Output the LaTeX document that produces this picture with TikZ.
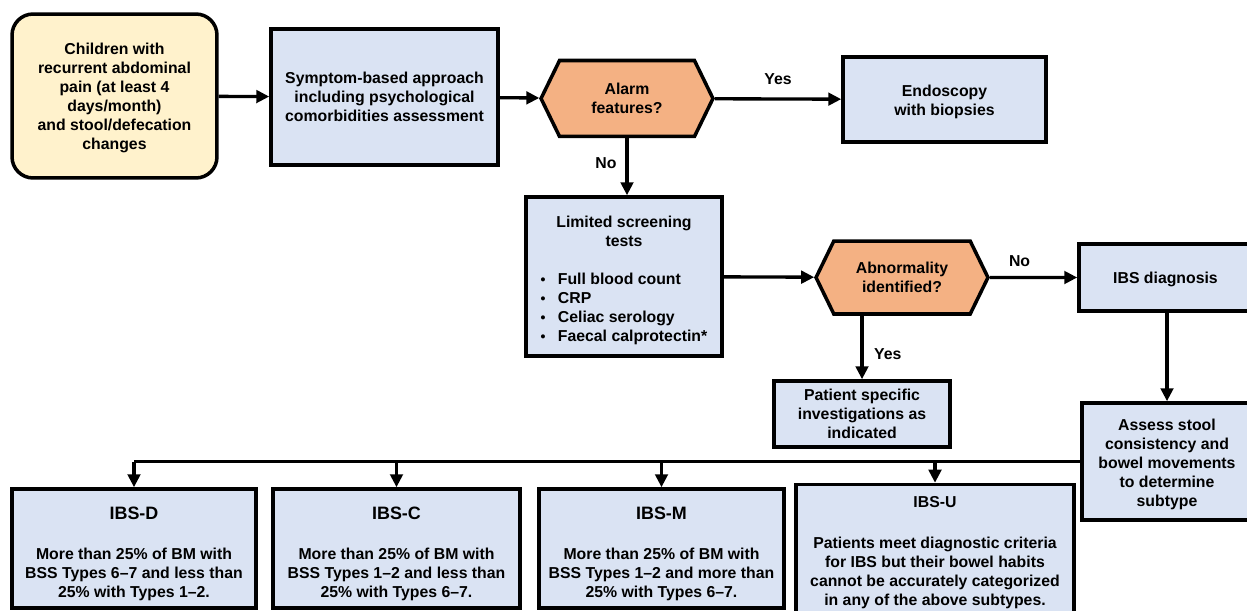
\documentclass[tikz,border=0pt]{standalone}
\usepackage{fontspec}
\setmainfont{Liberation Sans}
\usetikzlibrary{
    arrows.meta,
    positioning,
    shapes.symbols
}
\definecolor{ink}{RGB}{0,0,0}
\definecolor{startfill}{RGB}{255,242,204}
\definecolor{stepfill}{RGB}{218,227,243}
\definecolor{askfill}{RGB}{244,177,131}
\newcommand{\itemdot}{{\fontsize{8}{8}\selectfont\textbullet}}
\newcommand{\headroom}[1]{\rule{0pt}{#1}}
\tikzset{
    line cap=round,
    base box/.style={
        rectangle,
        draw=ink,
        line width=2pt,
        fill=stepfill,
        text=ink,
        align=center,
        inner sep=2pt,
        font=\bfseries\fontsize{9}{10.8}\selectfont
    },
    startbox/.style={base box, fill=startfill, rounded corners=12pt},
    stepbox/.style={base box},
    question/.style={
        base box,
        signal,
        signal to=west and east,
        signal pointer angle=128,
        fill=askfill
    },
    subtype/.style={
        base box,
        minimum height=2.38cm
    },
    flow/.style={
        -{Triangle[length=0.26cm, width=0.25cm]},
        draw=ink,
        line width=1.9pt
    },
    bus/.style={
        draw=ink,
        line width=1.9pt
    },
    answer/.style={
        font=\bfseries\fontsize{9}{10.8}\selectfont,
        text=ink,
        inner sep=1pt
    }
}

\begin{document}
\begin{tikzpicture}[x=0.02cm, y=-0.02cm]
\useasboundingbox (0,0) rectangle (1247,611);

% Top row
\node[startbox, minimum width=4.1cm, minimum height=3.28cm] (start) at (114.5,96)
    {\headroom{9pt}Children with\\recurrent abdominal\\pain (at least 4\\days/month)\\and stool/defecation\\changes};
\node[stepbox, minimum width=4.54cm, minimum height=2.72cm] (symptom) at (384.5,97)
    {Symptom-based approach\\including psychological\\comorbidities assessment};
\node[question, minimum width=3.44cm, minimum height=1.52cm] (alarm) at (627,98.5)
    {Alarm\\features?};
\node[stepbox, minimum width=4.06cm, minimum height=1.7cm] (endoscopy) at (944.5,99.5)
    {\headroom{9pt}Endoscopy\\with biopsies};

% Screening and second question
\node[stepbox, minimum width=3.92cm, minimum height=3.18cm] (screening) at (624,276.5)
    {\headroom{12.3pt}Limited screening\\tests\\[13pt]
    \begin{tabular}{@{}l@{\hspace{7pt}}l@{}}
    \itemdot & Full blood count\\
    \itemdot & CRP\\
    \itemdot & Celiac serology\\
    \itemdot & Faecal calprotectin*
    \end{tabular}};
\node[question, minimum width=3.44cm, minimum height=1.46cm] (abnormal) at (902,277.5)
    {Abnormality\\identified?};
\node[stepbox, minimum width=3.46cm, minimum height=1.34cm] (ibsdiag) at (1165.5,277.5)
    {\headroom{9pt}IBS diagnosis};
\node[stepbox, minimum width=3.52cm, minimum height=1.32cm] (patient) at (862,414)
    {Patient specific\\investigations as\\indicated};
\node[stepbox, minimum width=3.4cm, minimum height=2.34cm] (assess) at (1167,461.5)
    {\headroom{9.8pt}Assess stool\\consistency and\\bowel movements\\to determine\\subtype};

% Subtypes
\node[subtype, minimum width=4.88cm] (ibsd) at (134,548.5)
    {\headroom{13pt}{\fontsize{10.2}{12}\selectfont IBS-D}\\[12.3pt]More than 25\% of BM with\\BSS Types 6--7 and less than\\25\% with Types 1--2.};
\node[subtype, minimum width=4.94cm] (ibsc) at (396.5,548.5)
    {\headroom{13pt}{\fontsize{10.2}{12}\selectfont IBS-C}\\[12.3pt]More than 25\% of BM with\\BSS Types 1--2 and less than\\25\% with Types 6--7.};
\node[subtype, minimum width=4.9cm] (ibsm) at (661.5,548.5)
    {\headroom{13pt}{\fontsize{10.2}{12}\selectfont IBS-M}\\[12.3pt]More than 25\% of BM with\\BSS Types 1--2 and more than\\25\% with Types 6--7.};
\node[subtype, minimum width=5.56cm] (ibsu) at (935,548.5)
    {\headroom{11pt}IBS-U\\[12.8pt]Patients meet diagnostic criteria\\for IBS but their bowel habits\\cannot be accurately categorized\\in any of the above subtypes.};

% Connectors
\draw[flow] (start) -- (symptom);
\draw[flow] (symptom) -- (alarm);
\draw[flow] (alarm) -- node[answer, above=6pt] {Yes} (endoscopy);
\draw[flow] (alarm.south) -- node[answer, left=4pt, yshift=2pt] {No} (alarm.south |- screening.north);
\draw[flow] (screening) -- (abnormal);
\draw[flow] (abnormal) -- node[answer, above=4pt, xshift=-8pt] {No} (ibsdiag);
\draw[flow] (patient.north |- abnormal.south) -- node[answer, right=5pt, yshift=-3.5pt] {Yes} (patient.north);
\draw[flow] (assess.north |- ibsdiag.south) -- (assess.north);

% Subtype bus
\draw[bus] (assess.west) -- (ibsd.north |- assess.west);
\foreach \sub in {ibsd, ibsc, ibsm, ibsu}
    \draw[flow] (\sub.north |- assess.west) -- (\sub.north);
\end{tikzpicture}
\end{document}
